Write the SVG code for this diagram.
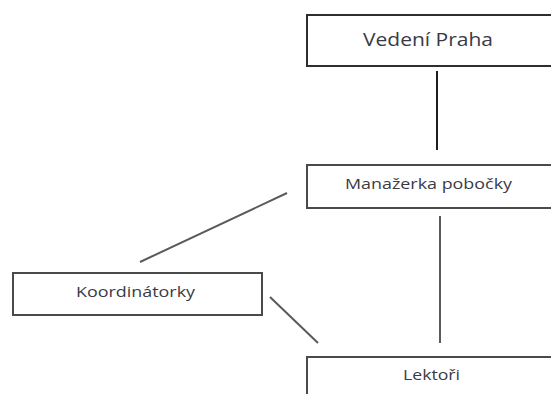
<svg xmlns="http://www.w3.org/2000/svg" width="551" height="394" viewBox="0 0 551 394">
  <style>
    .box { fill: #ffffff; stroke: #4a4a4a; stroke-width: 2; }
    .top { stroke: #2e2e2e; }
    .lbl { font-family: "Open Sans", "Liberation Sans", sans-serif; fill: #3a3a44; text-anchor: start; }
    .edge { stroke: #5a5a5a; stroke-width: 2; fill: none; }
  </style>
  <rect width="551" height="394" fill="#ffffff"/>

  <g id="connectors">
    <line class="edge" x1="437" y1="71" x2="437" y2="150" style="stroke:#1e1e1e"/>
    <line class="edge" x1="440" y1="216" x2="440" y2="343"/>
    <line class="edge" x1="287" y1="193" x2="140" y2="262"/>
    <line class="edge" x1="270" y1="297" x2="318" y2="343"/>
  </g>

  <g id="vedeni-praha">
    <rect class="box top" x="307" y="15" width="270" height="51"/>
    <text class="lbl" x="363" y="46" font-size="19" textLength="130" lengthAdjust="spacingAndGlyphs">Vedení Praha</text>
  </g>

  <g id="manazerka-pobocky">
    <rect class="box" x="307" y="165" width="270" height="43"/>
    <text class="lbl" x="345" y="189" font-size="14" textLength="167" lengthAdjust="spacingAndGlyphs">Manažerka pobočky</text>
  </g>

  <g id="koordinatorky">
    <rect class="box" x="13" y="273" width="249" height="42"/>
    <text class="lbl" x="76" y="297" font-size="14" textLength="119" lengthAdjust="spacingAndGlyphs">Koordinátorky</text>
  </g>

  <g id="lektori">
    <rect class="box" x="307" y="357" width="270" height="60"/>
    <text class="lbl" x="403" y="380" font-size="14" textLength="57" lengthAdjust="spacingAndGlyphs">Lektoři</text>
  </g>
</svg>
